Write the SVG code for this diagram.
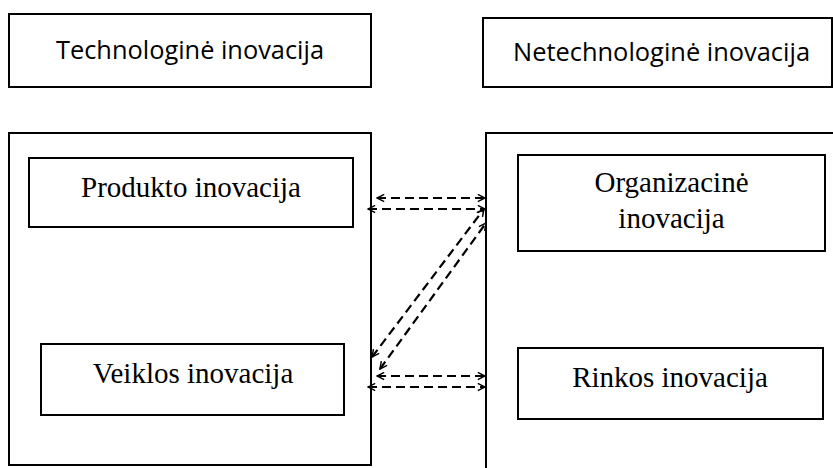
<svg xmlns="http://www.w3.org/2000/svg" width="833" height="468" viewBox="0 0 833 468">
<defs>
<style>
.box{fill:#fff;stroke:#000;stroke-width:2}
.sans{font-family:"Open Sans","Liberation Sans",sans-serif;font-size:25px;fill:#000}
.serif{font-family:"Liberation Serif","Times New Roman",serif;font-size:29px;fill:#000}
.con{fill:none;stroke:#000;stroke-width:2.2;stroke-dasharray:9 5}
</style>
<marker id="ah" viewBox="0 0 10 10" refX="9" refY="5" markerWidth="9" markerHeight="9" markerUnits="userSpaceOnUse" orient="auto-start-reverse">
<path d="M1,1 L9,5 L1,9" fill="none" stroke="#000" stroke-width="1.6"/>
</marker>
</defs>
<rect width="833" height="468" fill="#fff"/>
<g id="tech">
<rect class="box" x="9" y="14" width="362" height="73"/>
<text class="sans" x="190" y="59" text-anchor="middle" textLength="268" lengthAdjust="spacingAndGlyphs">Technologinė inovacija</text>
</g>
<g id="netech">
<rect class="box" x="483" y="18" width="349" height="69"/>
<text class="sans" x="661.5" y="61" text-anchor="middle" textLength="297" lengthAdjust="spacingAndGlyphs">Netechnologinė inovacija</text>
</g>
<g id="tech-group">
<rect class="box" x="9" y="133" width="362" height="332"/>
</g>
<g id="netech-group">
<path d="M486,468 L486,133 L833,133" fill="none" stroke="#000" stroke-width="2"/>
</g>
<g id="produkto">
<rect class="box" x="29" y="158" width="324" height="69"/>
<text class="serif" x="191" y="197" text-anchor="middle">Produkto inovacija</text>
</g>
<g id="veiklos">
<rect class="box" x="41" y="344" width="303" height="71"/>
<text class="serif" x="193" y="383" text-anchor="middle">Veiklos inovacija</text>
</g>
<g id="organizacine">
<rect class="box" x="518" y="155" width="307" height="96"/>
<text class="serif" x="671.5" y="192" text-anchor="middle">Organizacinė</text>
<text class="serif" x="671.5" y="228" text-anchor="middle">inovacija</text>
</g>
<g id="rinkos">
<rect class="box" x="518" y="348" width="305" height="71"/>
<text class="serif" x="670" y="387" text-anchor="middle">Rinkos inovacija</text>
</g>
<g id="connectors">
<path class="con" d="M377,198 L485,198" marker-start="url(#ah)" marker-end="url(#ah)"/>
<path class="con" d="M368,209 L485,209" marker-start="url(#ah)" marker-end="url(#ah)"/>
<path class="con" d="M372,357 L484,209" marker-start="url(#ah)" marker-end="url(#ah)"/>
<path class="con" d="M380,369 L486,223" marker-start="url(#ah)" marker-end="url(#ah)"/>
<path class="con" d="M377,376 L485,376" marker-start="url(#ah)" marker-end="url(#ah)"/>
<path class="con" d="M368,387 L485,387" marker-start="url(#ah)" marker-end="url(#ah)"/>
</g>
</svg>
